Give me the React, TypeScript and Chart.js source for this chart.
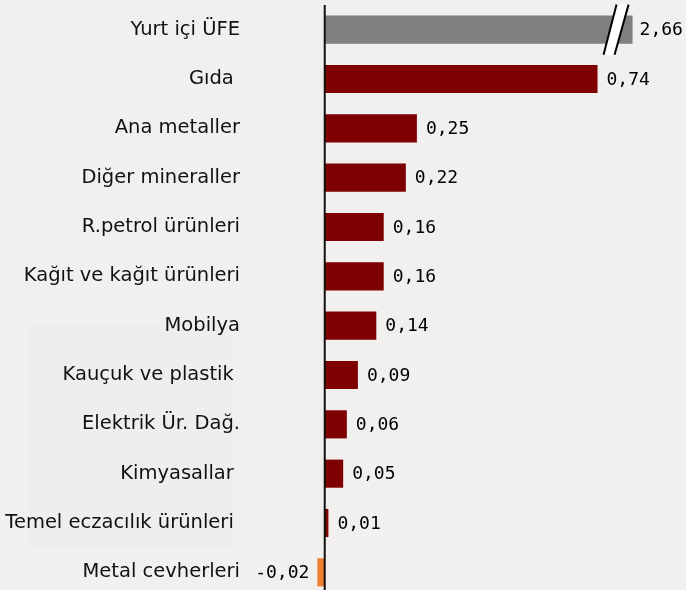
import React, { useEffect, useRef } from "react";
import { Chart, registerables } from "chart.js";

Chart.register(...registerables);

const categories = [
  "Yurt içi ÜFE",
  "Gıda ",
  "Ana metaller",
  "Diğer mineraller",
  "R.petrol ürünleri",
  "Kağıt ve kağıt ürünleri",
  "Mobilya",
  "Kauçuk ve plastik ",
  "Elektrik Ür. Dağ.",
  "Kimyasallar ",
  "Temel eczacılık ürünleri ",
  "Metal cevherleri",
];
const values = [2.66, 0.74, 0.25, 0.22, 0.16, 0.16, 0.14, 0.09, 0.06, 0.05, 0.01, -0.02];
// value at which the broken (first) bar is visually cut
const breakAt = 0.835;

const BG = "#f2f0ef";
const RED = "#7f0000";
const GRAY = "#808080";
const ORANGE = "#ed7d31";

const fmt = (v: number) => v.toFixed(2).replace(".", ",");

export default function App() {
  const ref = useRef<HTMLCanvasElement | null>(null);
  useEffect(() => {
    document.body.style.margin = "0";
    document.documentElement.style.overflow = "hidden";
    const canvas = ref.current!;
    const display = values.map((v) => Math.min(v, breakAt));
    const colors = values.map((v, i) => (i === 0 ? GRAY : v < 0 ? ORANGE : RED));

    const bgPlugin = {
      id: "bg",
      beforeDraw(chart: any) {
        const ctx = chart.ctx;
        ctx.save();
        ctx.fillStyle = BG;
        ctx.fillRect(0, 0, chart.width, chart.height);
        ctx.fillStyle = "#eeeeee";
        ctx.fillRect(29, 324, 203, 224);
        ctx.restore();
      },
    };

    const overlay = {
      id: "overlay",
      afterDatasetsDraw(chart: any) {
        const ctx = chart.ctx;
        const x = chart.scales.x;
        const area = chart.chartArea;
        const zero = x.getPixelForValue(0);
        ctx.save();
        ctx.strokeStyle = "#111";
        ctx.lineWidth = 2;
        ctx.beginPath();
        ctx.moveTo(zero, area.top);
        ctx.lineTo(zero, chart.height);
        ctx.stroke();

        const meta = chart.getDatasetMeta(0);
        meta.data.forEach((bar: any, i: number) => {
          const v = values[i];
          const end = bar.x;
          const yc = bar.y;
          if (values[i] > breakAt) {
            const h = bar.height;
            const top = yc - h / 2 - 11;
            const bot = yc + h / 2 + 11;
            ctx.fillStyle = "#ffffff";
            ctx.beginPath();
            ctx.moveTo(end - 29, bot);
            ctx.lineTo(end - 16, top);
            ctx.lineTo(end - 4, top);
            ctx.lineTo(end - 18, bot);
            ctx.closePath();
            ctx.fill();
            ctx.strokeStyle = "#000";
            ctx.lineWidth = 2;
            ctx.beginPath();
            ctx.moveTo(end - 29, bot);
            ctx.lineTo(end - 16, top);
            ctx.moveTo(end - 18, bot);
            ctx.lineTo(end - 4, top);
            ctx.stroke();
          }
          ctx.fillStyle = "#000";
          ctx.font = "18px 'DejaVu Sans Mono'";
          ctx.textBaseline = "middle";
          if (v >= 0) {
            ctx.textAlign = "left";
            ctx.fillText(fmt(v), end + (v > breakAt ? 7 : 9), yc + 1);
          } else {
            ctx.textAlign = "right";
            ctx.fillText(fmt(v), end - 8, yc + 1);
          }
        });
        ctx.restore();
      },
    };

    const chart = new Chart(canvas, {
      type: "bar",
      data: {
        labels: categories,
        datasets: [
          {
            data: display,
            backgroundColor: colors,
            borderWidth: 0,
            categoryPercentage: 1,
            barPercentage: 0.57,
          },
        ],
      },
      options: {
        indexAxis: "y",
        animation: false,
        responsive: false,
        layout: { padding: { top: 5, bottom: 3, left: 0, right: 0 } },
        plugins: { legend: { display: false }, tooltip: { enabled: false } },
        scales: {
          x: {
            display: false,
            min: -0.2,
            max: 0.98,
            grid: { display: false },
          },
          y: {
            grid: { display: false, drawTicks: false },
            border: { display: false },
            ticks: {
              color: "#111",
              padding: 11,
              font: { family: "'DejaVu Sans'", size: 19.5 },
              autoSkip: false,
            },
            afterFit(scale: any) {
              scale.width = 251;
              scale.paddingTop = 0;
              scale.paddingBottom = 0;
            },
          },
        },
      },
      plugins: [bgPlugin, overlay],
    });
    return () => chart.destroy();
  }, []);

  return (
    <div style={{ width: 686, height: 590, overflow: "hidden", background: BG }}>
      <canvas ref={ref} width={686} height={600} style={{ display: "block" }} />
    </div>
  );
}
